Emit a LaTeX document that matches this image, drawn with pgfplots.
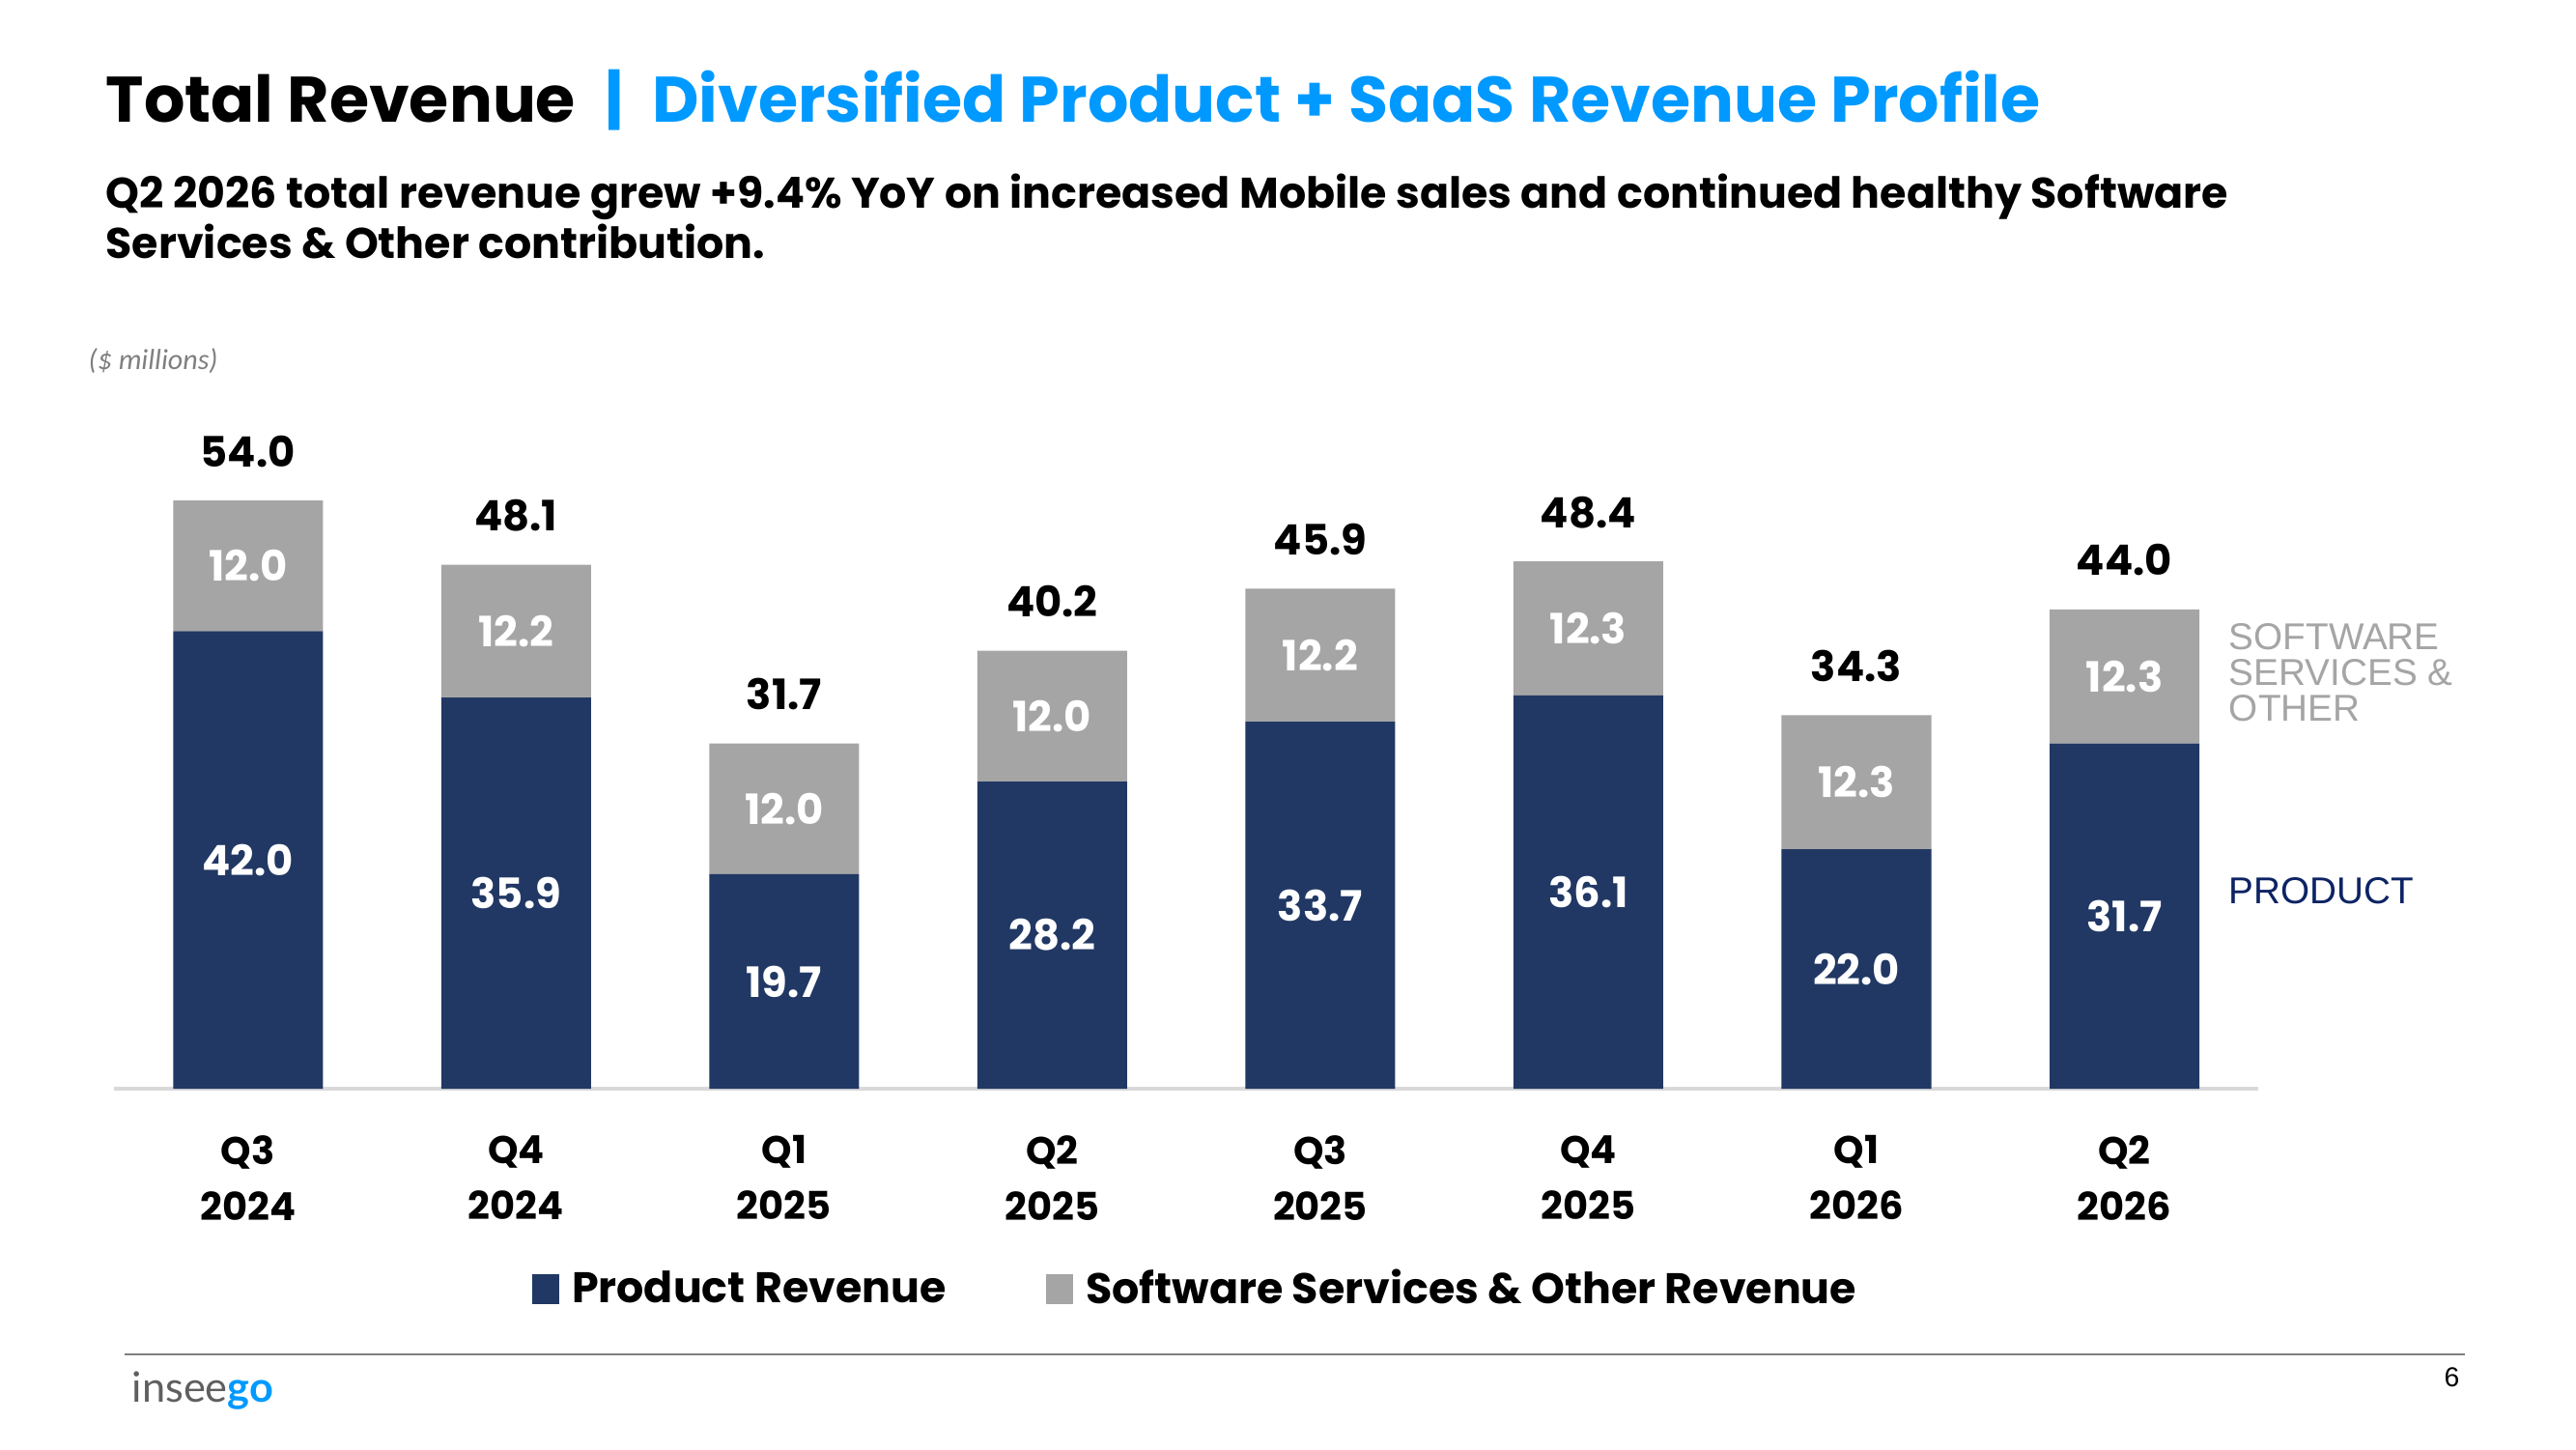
\documentclass[border=0pt]{standalone}
\usepackage{pgfplots}
\pgfplotsset{compat=1.18}
\usepackage{pgfplotstable}
\usepackage{fontspec}
\setmainfont{Poppins}
\newfontfamily\arialf{Liberation Sans}
\newfontfamily\carlitof{Carlito}
\newfontfamily\latof{Lato}
\definecolor{navy}{HTML}{213864}
\definecolor{bargrey}{HTML}{A5A5A5}
\definecolor{titleblue}{HTML}{0099FF}
\definecolor{prodnavy}{HTML}{0C2364}
\definecolor{axisgrey}{HTML}{D9D9D9}
\definecolor{footgrey}{HTML}{7F7F7F}
\definecolor{logogrey}{HTML}{5F5F5F}

\pgfplotstableread{
x prod sw total
0 42.0 12.0 54.0
1 35.9 12.2 48.1
2 19.7 12.0 31.7
3 28.2 12.0 40.2
4 33.7 12.2 45.9
5 36.1 12.3 48.4
6 22.0 12.3 34.3
7 31.7 12.3 44.0
}\revtable

\pgfplotsset{revaxis/.style={
  at={(35.4pt,111.9pt)}, anchor=south west,
  width=666pt, height=203pt, scale only axis,
  xmin=-0.5, xmax=7.5, ymin=0, ymax=60,
  clip=false,
}}

\begin{document}
\begin{tikzpicture}[x=1pt,y=1pt]
\useasboundingbox (0,0) rectangle (800,450);
\fill[white] (0,0) rectangle (800,450);

% title and subtitle
\node[anchor=base west, inner sep=0] at (32.7,412) {\fontsize{20}{24}\selectfont\bfseries Total Revenue\hspace{9pt}{\color{titleblue}|\hspace{9pt}Diversified Product + SaaS Revenue Profile}};
\node[anchor=base west, inner sep=0] at (32.7,385.5) {\fontsize{13.3}{16}\selectfont\bfseries Q2 2026 total revenue grew +9.4\% YoY on increased Mobile sales and continued healthy Software};
\node[anchor=base west, inner sep=0] at (32.7,369.7) {\fontsize{13.3}{16}\selectfont\bfseries Services \& Other contribution.};
\node[anchor=west, inner sep=0, text=footgrey] at (27.3,337.8) {\carlitof\itshape\fontsize{9}{10}\selectfont (\$ millions)};

\begin{axis}[revaxis,
  ybar stacked, bar width=46.5pt,
  axis x line=bottom, axis y line=none,
  x axis line style={-, draw=axisgrey, line width=1pt},
  xtick={0,...,7}, major tick length=0pt, ytick=\empty,
  xticklabels={{Q3\\2024},{Q4\\2024},{Q1\\2025},{Q2\\2025},{Q3\\2025},{Q4\\2025},{Q1\\2026},{Q2\\2026}},
  xticklabel style={align=center, anchor=north, font=\bfseries\fontsize{12}{17.4}\selectfont, yshift=-11pt},
  legend columns=2,
  legend cell align=left,
  legend image code/.code={\fill[#1] (0pt,-4.6pt) rectangle (8.4pt,4.6pt);},
  legend style={at={(0.1946,-0.3065)}, anchor=west, draw=none, fill=none, inner sep=0pt,
    font=\bfseries\fontsize{13.3}{16}\selectfont,
    /tikz/every odd column/.append style={column sep=2pt},
    /tikz/every even column/.append style={column sep=29pt}},
]
\addplot[fill=navy, draw=none] table[x=x, y=prod]{\revtable};
\addlegendentry{Product Revenue}
\addplot[fill=bargrey, draw=none] table[x=x, y=sw]{\revtable};
\addlegendentry{Software Services \& Other Revenue}
\end{axis}

\begin{axis}[revaxis, hide axis,
  nodes near coords, point meta=explicit symbolic,
  every node near coord/.append style={anchor=center, font=\bfseries\fontsize{13}{15}\selectfont},
]
\addplot[draw=none, mark=none, every node near coord/.append style={text=white}]
  table[x=x, y expr=\thisrow{prod}/2, meta=prod]{\revtable};
\addplot[draw=none, mark=none, every node near coord/.append style={text=white}]
  table[x=x, y expr=\thisrow{prod}+\thisrow{sw}/2, meta=sw]{\revtable};
\addplot[draw=none, mark=none, every node near coord/.append style={text=black, yshift=15.3pt}]
  table[x=x, y=total, meta=total]{\revtable};
\end{axis}

% right-hand series labels
\node[anchor=base west, inner sep=0, text=bargrey] at (692.1,248.4) {\arialf\fontsize{11.6}{12}\selectfont SOFTWARE};
\node[anchor=base west, inner sep=0, text=bargrey] at (692.1,237.2) {\arialf\fontsize{11.6}{12}\selectfont SERVICES \&};
\node[anchor=base west, inner sep=0, text=bargrey] at (692.1,226.0) {\arialf\fontsize{11.6}{12}\selectfont OTHER};
\node[anchor=base west, inner sep=0, text=prodnavy] at (692.1,169.5) {\arialf\fontsize{11.6}{12}\selectfont PRODUCT};

% footer
\draw[footgrey, line width=0.6pt] (38.7,29.4) -- (765.6,29.4);
\node[anchor=base west, inner sep=0] at (40.8,14.7) {\latof\fontsize{13}{13}\selectfont{\color{logogrey}insee}{\bfseries\color{titleblue}go}};
\node[anchor=base east, inner sep=0] at (764,19.5) {\arialf\fontsize{8.5}{10}\selectfont 6};
\end{tikzpicture}
\end{document}
